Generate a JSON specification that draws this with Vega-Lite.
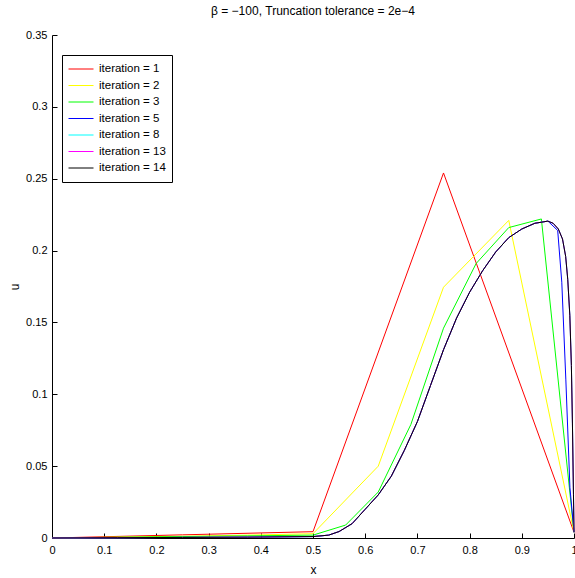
{
  "$schema": "https://vega.github.io/schema/vega-lite/v6.json",
  "width": 522,
  "height": 503,
  "autosize": {"type": "none"},
  "padding": {"left": 52, "top": 35, "right": 1, "bottom": 40},
  "background": "white",
  "title": {"text": "β = −100, Truncation tolerance = 2e−4", "fontSize": 12, "fontWeight": "normal", "font": "Liberation Sans", "color": "black", "anchor": "middle", "offset": 11},
  "config": {
    "view": {"stroke": null},
    "axis": {"domainColor": "black", "tickColor": "black", "labelColor": "black", "labelFont": "Liberation Sans", "labelFontSize": 11, "titleFont": "Liberation Sans", "titleFontSize": 12, "titleFontWeight": "normal", "titleColor": "black", "grid": false, "tickSize": -5, "domainWidth": 1, "tickWidth": 1},
    "legend": {"labelFont": "Liberation Sans", "labelFontSize": 11.5, "labelColor": "black"}
  },
  "data": {"values": [
    {"it": "iteration = 1", "x": 0, "u": 0},
    {"it": "iteration = 1", "x": 0.25, "u": 0.0022},
    {"it": "iteration = 1", "x": 0.5, "u": 0.0044},
    {"it": "iteration = 1", "x": 0.75, "u": 0.254},
    {"it": "iteration = 1", "x": 1, "u": 0.004},

    {"it": "iteration = 2", "x": 0, "u": 0},
    {"it": "iteration = 2", "x": 0.125, "u": 0.0006},
    {"it": "iteration = 2", "x": 0.25, "u": 0.0012},
    {"it": "iteration = 2", "x": 0.375, "u": 0.002},
    {"it": "iteration = 2", "x": 0.5, "u": 0.003},
    {"it": "iteration = 2", "x": 0.625, "u": 0.05},
    {"it": "iteration = 2", "x": 0.75, "u": 0.1745},
    {"it": "iteration = 2", "x": 0.875, "u": 0.221},
    {"it": "iteration = 2", "x": 1, "u": 0.004},

    {"it": "iteration = 3", "x": 0, "u": 0},
    {"it": "iteration = 3", "x": 0.125, "u": 0.0005},
    {"it": "iteration = 3", "x": 0.25, "u": 0.001},
    {"it": "iteration = 3", "x": 0.375, "u": 0.0015},
    {"it": "iteration = 3", "x": 0.5, "u": 0.002},
    {"it": "iteration = 3", "x": 0.5625, "u": 0.009},
    {"it": "iteration = 3", "x": 0.625, "u": 0.032},
    {"it": "iteration = 3", "x": 0.6875, "u": 0.079},
    {"it": "iteration = 3", "x": 0.75, "u": 0.146},
    {"it": "iteration = 3", "x": 0.8125, "u": 0.191},
    {"it": "iteration = 3", "x": 0.875, "u": 0.216},
    {"it": "iteration = 3", "x": 0.9375, "u": 0.222},
    {"it": "iteration = 3", "x": 1, "u": 0.004},

    {"it": "iteration = 5", "x": 0, "u": 0},
    {"it": "iteration = 5", "x": 0.125, "u": 0.0002},
    {"it": "iteration = 5", "x": 0.25, "u": 0.0004},
    {"it": "iteration = 5", "x": 0.375, "u": 0.0006},
    {"it": "iteration = 5", "x": 0.5, "u": 0.001},
    {"it": "iteration = 5", "x": 0.53, "u": 0.002},
    {"it": "iteration = 5", "x": 0.55, "u": 0.0045},
    {"it": "iteration = 5", "x": 0.575, "u": 0.01},
    {"it": "iteration = 5", "x": 0.6, "u": 0.02},
    {"it": "iteration = 5", "x": 0.625, "u": 0.03},
    {"it": "iteration = 5", "x": 0.65, "u": 0.043},
    {"it": "iteration = 5", "x": 0.675, "u": 0.061},
    {"it": "iteration = 5", "x": 0.7, "u": 0.081},
    {"it": "iteration = 5", "x": 0.725, "u": 0.106},
    {"it": "iteration = 5", "x": 0.75, "u": 0.131},
    {"it": "iteration = 5", "x": 0.775, "u": 0.153},
    {"it": "iteration = 5", "x": 0.8, "u": 0.171},
    {"it": "iteration = 5", "x": 0.825, "u": 0.186},
    {"it": "iteration = 5", "x": 0.85, "u": 0.199},
    {"it": "iteration = 5", "x": 0.875, "u": 0.209},
    {"it": "iteration = 5", "x": 0.9, "u": 0.215},
    {"it": "iteration = 5", "x": 0.925, "u": 0.219},
    {"it": "iteration = 5", "x": 0.95, "u": 0.2205},
    {"it": "iteration = 5", "x": 0.96875, "u": 0.214},
    {"it": "iteration = 5", "x": 0.9766, "u": 0.178},
    {"it": "iteration = 5", "x": 0.9844, "u": 0.11},
    {"it": "iteration = 5", "x": 0.9922, "u": 0.035},
    {"it": "iteration = 5", "x": 1, "u": 0.004},

    {"it": "iteration = 8", "x": 0, "u": 0},
    {"it": "iteration = 8", "x": 0.125, "u": 0.0002},
    {"it": "iteration = 8", "x": 0.25, "u": 0.0004},
    {"it": "iteration = 8", "x": 0.375, "u": 0.0006},
    {"it": "iteration = 8", "x": 0.5, "u": 0.001},
    {"it": "iteration = 8", "x": 0.53, "u": 0.002},
    {"it": "iteration = 8", "x": 0.55, "u": 0.0045},
    {"it": "iteration = 8", "x": 0.575, "u": 0.01},
    {"it": "iteration = 8", "x": 0.6, "u": 0.02},
    {"it": "iteration = 8", "x": 0.625, "u": 0.03},
    {"it": "iteration = 8", "x": 0.65, "u": 0.043},
    {"it": "iteration = 8", "x": 0.675, "u": 0.061},
    {"it": "iteration = 8", "x": 0.7, "u": 0.081},
    {"it": "iteration = 8", "x": 0.725, "u": 0.106},
    {"it": "iteration = 8", "x": 0.75, "u": 0.131},
    {"it": "iteration = 8", "x": 0.775, "u": 0.153},
    {"it": "iteration = 8", "x": 0.8, "u": 0.171},
    {"it": "iteration = 8", "x": 0.825, "u": 0.186},
    {"it": "iteration = 8", "x": 0.85, "u": 0.199},
    {"it": "iteration = 8", "x": 0.875, "u": 0.209},
    {"it": "iteration = 8", "x": 0.9, "u": 0.215},
    {"it": "iteration = 8", "x": 0.925, "u": 0.219},
    {"it": "iteration = 8", "x": 0.95, "u": 0.2205},
    {"it": "iteration = 8", "x": 0.96, "u": 0.219},
    {"it": "iteration = 8", "x": 0.97, "u": 0.215},
    {"it": "iteration = 8", "x": 0.978, "u": 0.208},
    {"it": "iteration = 8", "x": 0.984, "u": 0.196},
    {"it": "iteration = 8", "x": 0.988, "u": 0.18},
    {"it": "iteration = 8", "x": 0.992, "u": 0.155},
    {"it": "iteration = 8", "x": 0.995, "u": 0.12},
    {"it": "iteration = 8", "x": 0.997, "u": 0.08},
    {"it": "iteration = 8", "x": 0.999, "u": 0.03},
    {"it": "iteration = 8", "x": 1, "u": 0.004},

    {"it": "iteration = 13", "x": 0, "u": 0},
    {"it": "iteration = 13", "x": 0.125, "u": 0.0002},
    {"it": "iteration = 13", "x": 0.25, "u": 0.0004},
    {"it": "iteration = 13", "x": 0.375, "u": 0.0006},
    {"it": "iteration = 13", "x": 0.5, "u": 0.001},
    {"it": "iteration = 13", "x": 0.53, "u": 0.002},
    {"it": "iteration = 13", "x": 0.55, "u": 0.0045},
    {"it": "iteration = 13", "x": 0.575, "u": 0.01},
    {"it": "iteration = 13", "x": 0.6, "u": 0.02},
    {"it": "iteration = 13", "x": 0.625, "u": 0.03},
    {"it": "iteration = 13", "x": 0.65, "u": 0.043},
    {"it": "iteration = 13", "x": 0.675, "u": 0.061},
    {"it": "iteration = 13", "x": 0.7, "u": 0.081},
    {"it": "iteration = 13", "x": 0.725, "u": 0.106},
    {"it": "iteration = 13", "x": 0.75, "u": 0.131},
    {"it": "iteration = 13", "x": 0.775, "u": 0.153},
    {"it": "iteration = 13", "x": 0.8, "u": 0.171},
    {"it": "iteration = 13", "x": 0.825, "u": 0.186},
    {"it": "iteration = 13", "x": 0.85, "u": 0.199},
    {"it": "iteration = 13", "x": 0.875, "u": 0.209},
    {"it": "iteration = 13", "x": 0.9, "u": 0.215},
    {"it": "iteration = 13", "x": 0.925, "u": 0.219},
    {"it": "iteration = 13", "x": 0.95, "u": 0.2205},
    {"it": "iteration = 13", "x": 0.96, "u": 0.219},
    {"it": "iteration = 13", "x": 0.97, "u": 0.215},
    {"it": "iteration = 13", "x": 0.978, "u": 0.208},
    {"it": "iteration = 13", "x": 0.984, "u": 0.196},
    {"it": "iteration = 13", "x": 0.988, "u": 0.18},
    {"it": "iteration = 13", "x": 0.992, "u": 0.155},
    {"it": "iteration = 13", "x": 0.995, "u": 0.12},
    {"it": "iteration = 13", "x": 0.997, "u": 0.08},
    {"it": "iteration = 13", "x": 0.999, "u": 0.03},
    {"it": "iteration = 13", "x": 1, "u": 0.004},

    {"it": "iteration = 14", "x": 0, "u": 0},
    {"it": "iteration = 14", "x": 0.125, "u": 0.0002},
    {"it": "iteration = 14", "x": 0.25, "u": 0.0004},
    {"it": "iteration = 14", "x": 0.375, "u": 0.0006},
    {"it": "iteration = 14", "x": 0.5, "u": 0.001},
    {"it": "iteration = 14", "x": 0.53, "u": 0.002},
    {"it": "iteration = 14", "x": 0.55, "u": 0.0045},
    {"it": "iteration = 14", "x": 0.575, "u": 0.01},
    {"it": "iteration = 14", "x": 0.6, "u": 0.02},
    {"it": "iteration = 14", "x": 0.625, "u": 0.03},
    {"it": "iteration = 14", "x": 0.65, "u": 0.043},
    {"it": "iteration = 14", "x": 0.675, "u": 0.061},
    {"it": "iteration = 14", "x": 0.7, "u": 0.081},
    {"it": "iteration = 14", "x": 0.725, "u": 0.106},
    {"it": "iteration = 14", "x": 0.75, "u": 0.131},
    {"it": "iteration = 14", "x": 0.775, "u": 0.153},
    {"it": "iteration = 14", "x": 0.8, "u": 0.171},
    {"it": "iteration = 14", "x": 0.825, "u": 0.186},
    {"it": "iteration = 14", "x": 0.85, "u": 0.199},
    {"it": "iteration = 14", "x": 0.875, "u": 0.209},
    {"it": "iteration = 14", "x": 0.9, "u": 0.215},
    {"it": "iteration = 14", "x": 0.925, "u": 0.219},
    {"it": "iteration = 14", "x": 0.95, "u": 0.2205},
    {"it": "iteration = 14", "x": 0.96, "u": 0.219},
    {"it": "iteration = 14", "x": 0.97, "u": 0.215},
    {"it": "iteration = 14", "x": 0.978, "u": 0.208},
    {"it": "iteration = 14", "x": 0.984, "u": 0.196},
    {"it": "iteration = 14", "x": 0.988, "u": 0.18},
    {"it": "iteration = 14", "x": 0.992, "u": 0.155},
    {"it": "iteration = 14", "x": 0.995, "u": 0.12},
    {"it": "iteration = 14", "x": 0.997, "u": 0.08},
    {"it": "iteration = 14", "x": 0.999, "u": 0.03},
    {"it": "iteration = 14", "x": 1, "u": 0.004}
  ]},
  "encoding": {
    "x": {"field": "x", "type": "quantitative", "scale": {"domain": [0, 1], "nice": false}, "axis": {"title": "x", "values": [0, 0.1, 0.2, 0.3, 0.4, 0.5, 0.6, 0.7, 0.8, 0.9, 1], "format": ".1~f", "labelPadding": 11, "titlePadding": 9, "labelFlush": false}},
    "y": {"field": "u", "type": "quantitative", "scale": {"domain": [0, 0.35], "nice": false}, "axis": {"title": "u", "values": [0, 0.05, 0.1, 0.15, 0.2, 0.25, 0.3, 0.35], "format": ".2~f", "labelPadding": 10, "titlePadding": 4, "labelFlush": false}},
    "color": {"field": "it", "type": "nominal",
      "scale": {"domain": ["iteration = 1", "iteration = 2", "iteration = 3", "iteration = 5", "iteration = 8", "iteration = 13", "iteration = 14"], "range": ["#ff0000", "#ffff00", "#00ff00", "#0000ff", "#00ffff", "#ff00ff", "#000000"]},
      "legend": {"title": null, "orient": "none", "legendX": 10, "legendY": 20, "symbolType": "stroke", "symbolSize": 625, "symbolStrokeWidth": 1, "labelOffset": 5, "padding": 6, "rowPadding": 0.5, "clipHeight": 16, "strokeColor": "black", "fillColor": "white", "labelFont": "Liberation Sans", "labelFontSize": 11.5}
    }
  },
  "layer": [
    {"transform": [{"filter": "datum.it == 'iteration = 1'"}], "mark": {"type": "line", "strokeWidth": 1}},
    {"transform": [{"filter": "datum.it == 'iteration = 2'"}], "mark": {"type": "line", "strokeWidth": 1}},
    {"transform": [{"filter": "datum.it == 'iteration = 3'"}], "mark": {"type": "line", "strokeWidth": 1}},
    {"transform": [{"filter": "datum.it == 'iteration = 5'"}], "mark": {"type": "line", "strokeWidth": 1}},
    {"transform": [{"filter": "datum.it == 'iteration = 8'"}], "mark": {"type": "line", "strokeWidth": 1}},
    {"transform": [{"filter": "datum.it == 'iteration = 13'"}], "mark": {"type": "line", "strokeWidth": 1}},
    {"transform": [{"filter": "datum.it == 'iteration = 14'"}], "mark": {"type": "line", "strokeWidth": 1}}
  ]
}
